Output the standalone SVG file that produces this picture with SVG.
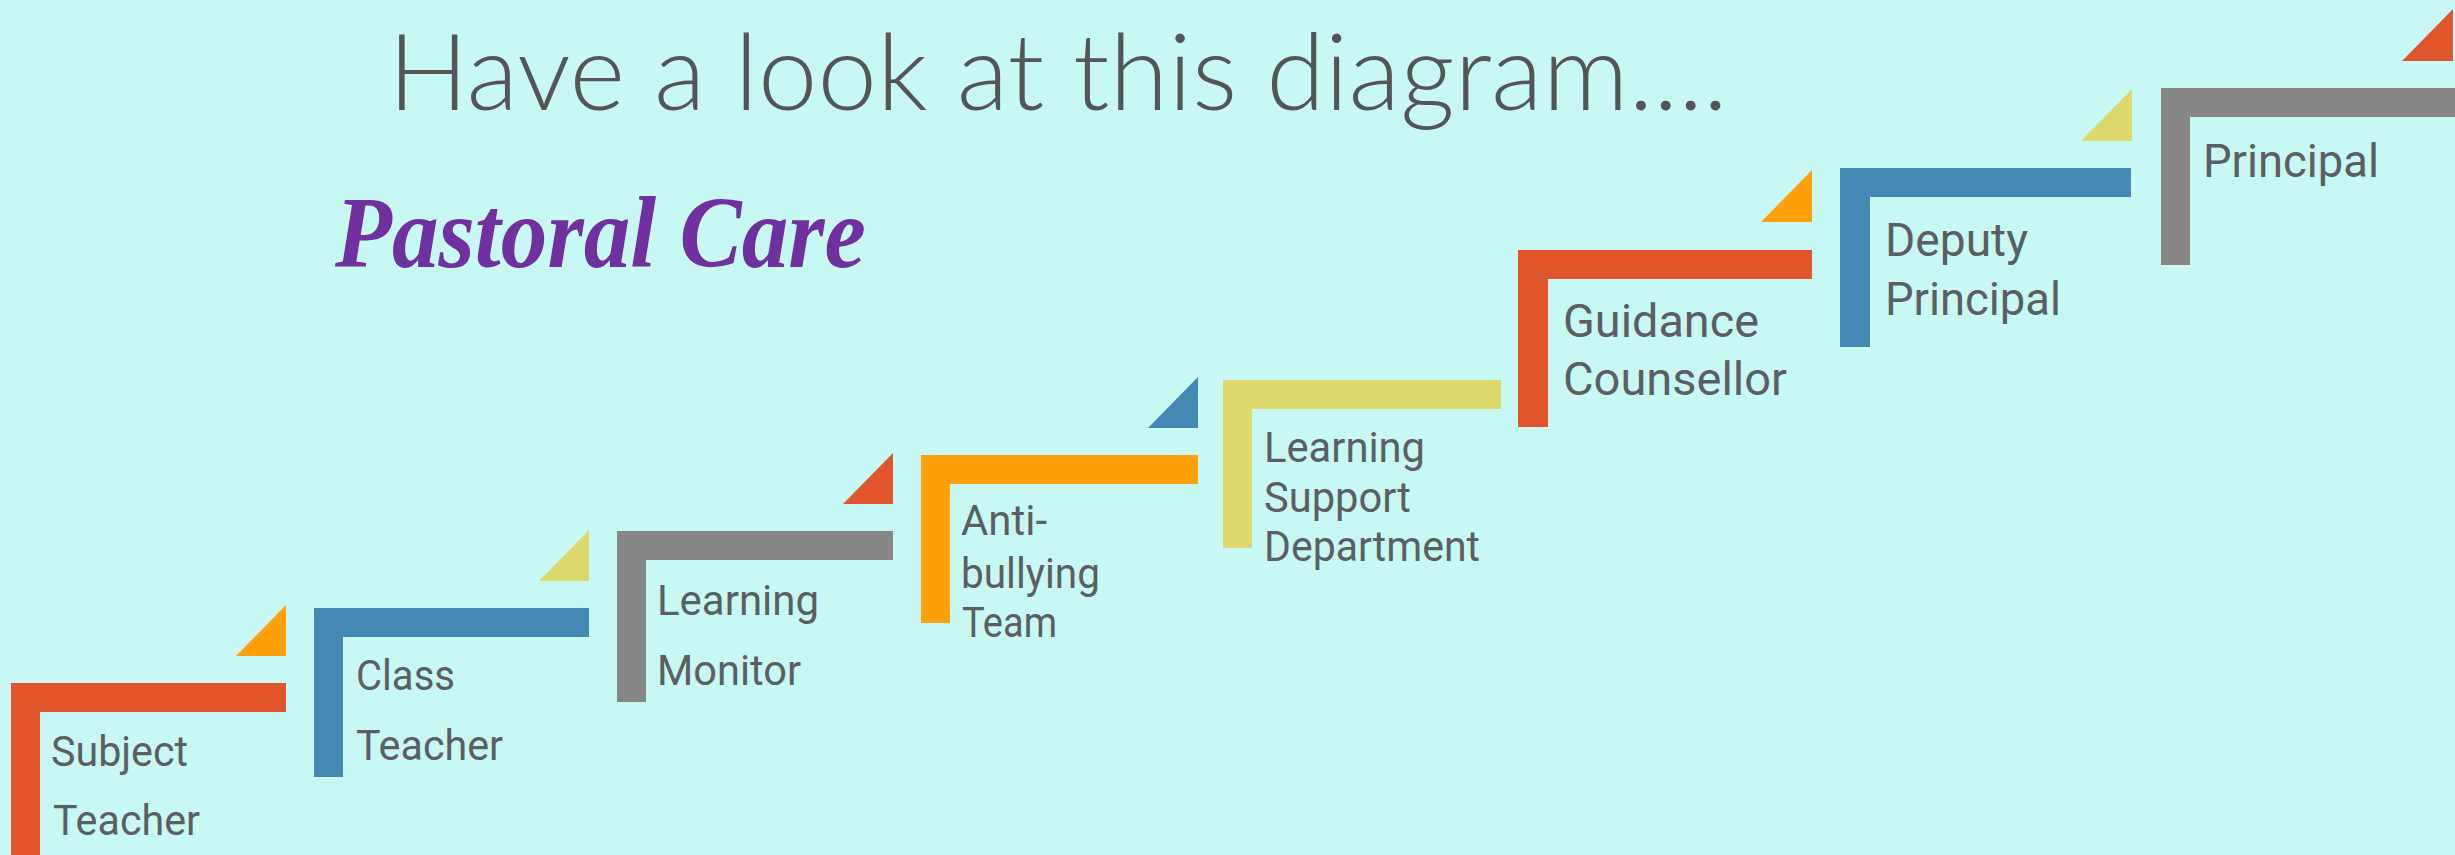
<svg xmlns="http://www.w3.org/2000/svg" width="2455" height="855" viewBox="0 0 2455 855">
<style>
.red{fill:#E0552B}
.blue{fill:#4389B4}
.gray{fill:#878787}
.orange{fill:#FFA00A}
.yellow{fill:#DDD86C}
.lbl{font-family:Roboto,"Liberation Sans",sans-serif;fill:#5A5F64}
.s{font-size:42px}
.b{font-size:46px}
.title{font-family:Lato,"Open Sans","Liberation Sans",sans-serif;font-weight:300;font-size:107px;fill:#555557}
.sub{font-family:"Liberation Serif",serif;font-style:italic;font-weight:bold;font-size:102px;fill:#7030A0}
</style>
<rect width="2455" height="855" fill="#C7F8F3"/>
<text class="title" x="388" y="110" textLength="1340" lengthAdjust="spacingAndGlyphs">Have a look at this diagram....</text>
<text class="sub" x="335" y="267" textLength="531" lengthAdjust="spacingAndGlyphs">Pastoral Care</text>

<g id="connectors">
<polygon class="orange" points="236,656 286,605 286,656"/>
<polygon class="yellow" points="539,581 589,530 589,581"/>
<polygon class="red" points="843,504 893,453 893,504"/>
<polygon class="blue" points="1148,428 1198,377 1198,428"/>
<polygon class="orange" points="1761,222 1812,170 1812,222"/>
<polygon class="yellow" points="2081,141 2132,89 2132,141"/>
<polygon class="red" points="2402,61 2453,9 2453,61"/>
</g>

<g id="step1">
<path class="red" d="M11 683 H286 V712 H40 V855 H11 Z"/>
<text class="lbl s" x="51" y="766" textLength="137" lengthAdjust="spacingAndGlyphs">Subject</text>
<text class="lbl s" x="53" y="835" textLength="147" lengthAdjust="spacingAndGlyphs">Teacher</text>
</g>
<g id="step2">
<path class="blue" d="M314 608 H589 V637 H343 V777 H314 Z"/>
<text class="lbl s" x="356" y="690" textLength="99" lengthAdjust="spacingAndGlyphs">Class</text>
<text class="lbl s" x="356" y="760" textLength="147" lengthAdjust="spacingAndGlyphs">Teacher</text>
</g>
<g id="step3">
<path class="gray" d="M617 531 H893 V560 H646 V702 H617 Z"/>
<text class="lbl s" x="657" y="615" textLength="162" lengthAdjust="spacingAndGlyphs">Learning</text>
<text class="lbl s" x="657" y="685" textLength="144" lengthAdjust="spacingAndGlyphs">Monitor</text>
</g>
<g id="step4">
<path class="orange" d="M921 455 H1198 V484 H950 V623 H921 Z"/>
<text class="lbl s" x="961" y="535" textLength="86" lengthAdjust="spacingAndGlyphs">Anti-</text>
<text class="lbl s" x="961" y="588" textLength="139" lengthAdjust="spacingAndGlyphs">bullying</text>
<text class="lbl s" x="962" y="637" textLength="95" lengthAdjust="spacingAndGlyphs">Team</text>
</g>
<g id="step5">
<path class="yellow" d="M1223 380 H1501 V409 H1252 V548 H1223 Z"/>
<text class="lbl s" x="1264" y="462" textLength="161" lengthAdjust="spacingAndGlyphs">Learning</text>
<text class="lbl s" x="1264" y="512" textLength="147" lengthAdjust="spacingAndGlyphs">Support</text>
<text class="lbl s" x="1264" y="561" textLength="216" lengthAdjust="spacingAndGlyphs">Department</text>
</g>
<g id="step6">
<path class="red" d="M1518 250 H1812 V279 H1548 V427 H1518 Z"/>
<text class="lbl b" x="1563" y="337" textLength="196" lengthAdjust="spacingAndGlyphs">Guidance</text>
<text class="lbl b" x="1563" y="395" textLength="224" lengthAdjust="spacingAndGlyphs">Counsellor</text>
</g>
<g id="step7">
<path class="blue" d="M1840 168 H2131 V197 H1870 V347 H1840 Z"/>
<text class="lbl b" x="1885" y="256" textLength="143" lengthAdjust="spacingAndGlyphs">Deputy</text>
<text class="lbl b" x="1885" y="315" textLength="176" lengthAdjust="spacingAndGlyphs">Principal</text>
</g>
<g id="step8">
<path class="gray" d="M2161 88 H2455 V117 H2190 V265 H2161 Z"/>
<text class="lbl b" x="2203" y="177" textLength="176" lengthAdjust="spacingAndGlyphs">Principal</text>
</g>
</svg>
